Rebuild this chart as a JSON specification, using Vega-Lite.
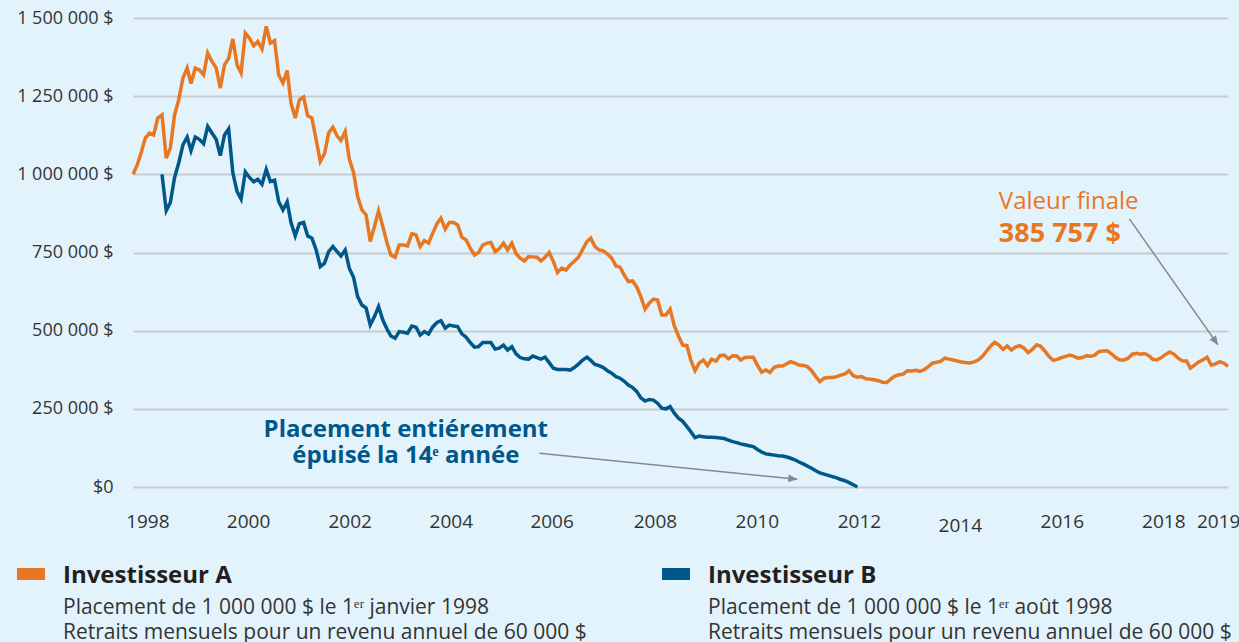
{
  "$schema": "https://vega.github.io/schema/vega-lite/v6.json",
  "background": "#e3f3fc",
  "padding": {"top": 9, "left": 0, "right": 0, "bottom": 0},
  "spacing": 0,
  "config": {"font": "Open Sans", "view": {"stroke": null}},
  "datasets": {
    "series": [
      {"date":"1998-01","investor":"Investisseur A","value":1000000},
      {"date":"1998-02","investor":"Investisseur A","value":1030000},
      {"date":"1998-03","investor":"Investisseur A","value":1068000},
      {"date":"1998-04","investor":"Investisseur A","value":1116000},
      {"date":"1998-05","investor":"Investisseur A","value":1132000},
      {"date":"1998-06","investor":"Investisseur A","value":1126000},
      {"date":"1998-07","investor":"Investisseur A","value":1180000},
      {"date":"1998-08","investor":"Investisseur A","value":1190000},
      {"date":"1998-09","investor":"Investisseur A","value":1052000},
      {"date":"1998-10","investor":"Investisseur A","value":1084000},
      {"date":"1998-11","investor":"Investisseur A","value":1190000},
      {"date":"1998-12","investor":"Investisseur A","value":1238000},
      {"date":"1999-01","investor":"Investisseur A","value":1308000},
      {"date":"1999-02","investor":"Investisseur A","value":1340000},
      {"date":"1999-03","investor":"Investisseur A","value":1290000},
      {"date":"1999-04","investor":"Investisseur A","value":1340000},
      {"date":"1999-05","investor":"Investisseur A","value":1334000},
      {"date":"1999-06","investor":"Investisseur A","value":1318000},
      {"date":"1999-07","investor":"Investisseur A","value":1388000},
      {"date":"1999-08","investor":"Investisseur A","value":1361000},
      {"date":"1999-09","investor":"Investisseur A","value":1340000},
      {"date":"1999-10","investor":"Investisseur A","value":1276000},
      {"date":"1999-11","investor":"Investisseur A","value":1350000},
      {"date":"1999-12","investor":"Investisseur A","value":1371000},
      {"date":"2000-01","investor":"Investisseur A","value":1433000},
      {"date":"2000-02","investor":"Investisseur A","value":1350000},
      {"date":"2000-03","investor":"Investisseur A","value":1324000},
      {"date":"2000-04","investor":"Investisseur A","value":1452000},
      {"date":"2000-05","investor":"Investisseur A","value":1436000},
      {"date":"2000-06","investor":"Investisseur A","value":1411000},
      {"date":"2000-07","investor":"Investisseur A","value":1425000},
      {"date":"2000-08","investor":"Investisseur A","value":1401000},
      {"date":"2000-09","investor":"Investisseur A","value":1473000},
      {"date":"2000-10","investor":"Investisseur A","value":1420000},
      {"date":"2000-11","investor":"Investisseur A","value":1428000},
      {"date":"2000-12","investor":"Investisseur A","value":1318000},
      {"date":"2001-01","investor":"Investisseur A","value":1292000},
      {"date":"2001-02","investor":"Investisseur A","value":1332000},
      {"date":"2001-03","investor":"Investisseur A","value":1228000},
      {"date":"2001-04","investor":"Investisseur A","value":1180000},
      {"date":"2001-05","investor":"Investisseur A","value":1238000},
      {"date":"2001-06","investor":"Investisseur A","value":1247000},
      {"date":"2001-07","investor":"Investisseur A","value":1187000},
      {"date":"2001-08","investor":"Investisseur A","value":1180000},
      {"date":"2001-09","investor":"Investisseur A","value":1110000},
      {"date":"2001-10","investor":"Investisseur A","value":1041000},
      {"date":"2001-11","investor":"Investisseur A","value":1066000},
      {"date":"2001-12","investor":"Investisseur A","value":1132000},
      {"date":"2002-01","investor":"Investisseur A","value":1151000},
      {"date":"2002-02","investor":"Investisseur A","value":1123000},
      {"date":"2002-03","investor":"Investisseur A","value":1108000},
      {"date":"2002-04","investor":"Investisseur A","value":1137000},
      {"date":"2002-05","investor":"Investisseur A","value":1049000},
      {"date":"2002-06","investor":"Investisseur A","value":1006000},
      {"date":"2002-07","investor":"Investisseur A","value":929000},
      {"date":"2002-08","investor":"Investisseur A","value":886000},
      {"date":"2002-09","investor":"Investisseur A","value":870000},
      {"date":"2002-10","investor":"Investisseur A","value":785000},
      {"date":"2002-11","investor":"Investisseur A","value":833000},
      {"date":"2002-12","investor":"Investisseur A","value":883000},
      {"date":"2003-01","investor":"Investisseur A","value":833000},
      {"date":"2003-02","investor":"Investisseur A","value":780000},
      {"date":"2003-03","investor":"Investisseur A","value":742000},
      {"date":"2003-04","investor":"Investisseur A","value":735000},
      {"date":"2003-05","investor":"Investisseur A","value":774000},
      {"date":"2003-06","investor":"Investisseur A","value":774000},
      {"date":"2003-07","investor":"Investisseur A","value":771000},
      {"date":"2003-08","investor":"Investisseur A","value":810000},
      {"date":"2003-09","investor":"Investisseur A","value":806000},
      {"date":"2003-10","investor":"Investisseur A","value":769000},
      {"date":"2003-11","investor":"Investisseur A","value":788000},
      {"date":"2003-12","investor":"Investisseur A","value":780000},
      {"date":"2004-01","investor":"Investisseur A","value":812000},
      {"date":"2004-02","investor":"Investisseur A","value":842000},
      {"date":"2004-03","investor":"Investisseur A","value":860000},
      {"date":"2004-04","investor":"Investisseur A","value":825000},
      {"date":"2004-05","investor":"Investisseur A","value":846000},
      {"date":"2004-06","investor":"Investisseur A","value":846000},
      {"date":"2004-07","investor":"Investisseur A","value":838000},
      {"date":"2004-08","investor":"Investisseur A","value":799000},
      {"date":"2004-09","investor":"Investisseur A","value":790000},
      {"date":"2004-10","investor":"Investisseur A","value":764000},
      {"date":"2004-11","investor":"Investisseur A","value":742000},
      {"date":"2004-12","investor":"Investisseur A","value":750000},
      {"date":"2005-01","investor":"Investisseur A","value":774000},
      {"date":"2005-02","investor":"Investisseur A","value":780000},
      {"date":"2005-03","investor":"Investisseur A","value":782000},
      {"date":"2005-04","investor":"Investisseur A","value":753000},
      {"date":"2005-05","investor":"Investisseur A","value":762000},
      {"date":"2005-06","investor":"Investisseur A","value":780000},
      {"date":"2005-07","investor":"Investisseur A","value":758000},
      {"date":"2005-08","investor":"Investisseur A","value":780000},
      {"date":"2005-09","investor":"Investisseur A","value":746000},
      {"date":"2005-10","investor":"Investisseur A","value":732000},
      {"date":"2005-11","investor":"Investisseur A","value":723000},
      {"date":"2005-12","investor":"Investisseur A","value":737000},
      {"date":"2006-01","investor":"Investisseur A","value":736000},
      {"date":"2006-02","investor":"Investisseur A","value":735000},
      {"date":"2006-03","investor":"Investisseur A","value":723000},
      {"date":"2006-04","investor":"Investisseur A","value":735000},
      {"date":"2006-05","investor":"Investisseur A","value":750000},
      {"date":"2006-06","investor":"Investisseur A","value":721000},
      {"date":"2006-07","investor":"Investisseur A","value":686000},
      {"date":"2006-08","investor":"Investisseur A","value":700000},
      {"date":"2006-09","investor":"Investisseur A","value":694000},
      {"date":"2006-10","investor":"Investisseur A","value":710000},
      {"date":"2006-11","investor":"Investisseur A","value":722000},
      {"date":"2006-12","investor":"Investisseur A","value":735000},
      {"date":"2007-01","investor":"Investisseur A","value":760000},
      {"date":"2007-02","investor":"Investisseur A","value":785000},
      {"date":"2007-03","investor":"Investisseur A","value":796000},
      {"date":"2007-04","investor":"Investisseur A","value":769000},
      {"date":"2007-05","investor":"Investisseur A","value":758000},
      {"date":"2007-06","investor":"Investisseur A","value":755000},
      {"date":"2007-07","investor":"Investisseur A","value":745000},
      {"date":"2007-08","investor":"Investisseur A","value":732000},
      {"date":"2007-09","investor":"Investisseur A","value":707000},
      {"date":"2007-10","investor":"Investisseur A","value":703000},
      {"date":"2007-11","investor":"Investisseur A","value":678000},
      {"date":"2007-12","investor":"Investisseur A","value":657000},
      {"date":"2008-01","investor":"Investisseur A","value":659000},
      {"date":"2008-02","investor":"Investisseur A","value":639000},
      {"date":"2008-03","investor":"Investisseur A","value":609000},
      {"date":"2008-04","investor":"Investisseur A","value":569000},
      {"date":"2008-05","investor":"Investisseur A","value":588000},
      {"date":"2008-06","investor":"Investisseur A","value":601000},
      {"date":"2008-07","investor":"Investisseur A","value":598000},
      {"date":"2008-08","investor":"Investisseur A","value":550000},
      {"date":"2008-09","investor":"Investisseur A","value":550000},
      {"date":"2008-10","investor":"Investisseur A","value":569000},
      {"date":"2008-11","investor":"Investisseur A","value":515000},
      {"date":"2008-12","investor":"Investisseur A","value":483000},
      {"date":"2009-01","investor":"Investisseur A","value":454000},
      {"date":"2009-02","investor":"Investisseur A","value":452000},
      {"date":"2009-03","investor":"Investisseur A","value":406000},
      {"date":"2009-04","investor":"Investisseur A","value":372000},
      {"date":"2009-05","investor":"Investisseur A","value":396000},
      {"date":"2009-06","investor":"Investisseur A","value":406000},
      {"date":"2009-07","investor":"Investisseur A","value":388000},
      {"date":"2009-08","investor":"Investisseur A","value":409000},
      {"date":"2009-09","investor":"Investisseur A","value":403000},
      {"date":"2009-10","investor":"Investisseur A","value":420000},
      {"date":"2009-11","investor":"Investisseur A","value":422000},
      {"date":"2009-12","investor":"Investisseur A","value":410000},
      {"date":"2010-01","investor":"Investisseur A","value":420000},
      {"date":"2010-02","investor":"Investisseur A","value":419000},
      {"date":"2010-03","investor":"Investisseur A","value":406000},
      {"date":"2010-04","investor":"Investisseur A","value":414000},
      {"date":"2010-05","investor":"Investisseur A","value":415000},
      {"date":"2010-06","investor":"Investisseur A","value":415000},
      {"date":"2010-07","investor":"Investisseur A","value":390000},
      {"date":"2010-08","investor":"Investisseur A","value":367000},
      {"date":"2010-09","investor":"Investisseur A","value":374000},
      {"date":"2010-10","investor":"Investisseur A","value":366000},
      {"date":"2010-11","investor":"Investisseur A","value":383000},
      {"date":"2010-12","investor":"Investisseur A","value":387000},
      {"date":"2011-01","investor":"Investisseur A","value":387000},
      {"date":"2011-02","investor":"Investisseur A","value":394000},
      {"date":"2011-03","investor":"Investisseur A","value":401000},
      {"date":"2011-04","investor":"Investisseur A","value":396000},
      {"date":"2011-05","investor":"Investisseur A","value":390000},
      {"date":"2011-06","investor":"Investisseur A","value":389000},
      {"date":"2011-07","investor":"Investisseur A","value":385000},
      {"date":"2011-08","investor":"Investisseur A","value":372000},
      {"date":"2011-09","investor":"Investisseur A","value":353000},
      {"date":"2011-10","investor":"Investisseur A","value":337000},
      {"date":"2011-11","investor":"Investisseur A","value":348000},
      {"date":"2011-12","investor":"Investisseur A","value":350000},
      {"date":"2012-01","investor":"Investisseur A","value":350000},
      {"date":"2012-02","investor":"Investisseur A","value":353000},
      {"date":"2012-03","investor":"Investisseur A","value":358000},
      {"date":"2012-04","investor":"Investisseur A","value":362000},
      {"date":"2012-05","investor":"Investisseur A","value":372000},
      {"date":"2012-06","investor":"Investisseur A","value":356000},
      {"date":"2012-07","investor":"Investisseur A","value":351000},
      {"date":"2012-08","investor":"Investisseur A","value":353000},
      {"date":"2012-09","investor":"Investisseur A","value":346000},
      {"date":"2012-10","investor":"Investisseur A","value":345000},
      {"date":"2012-11","investor":"Investisseur A","value":343000},
      {"date":"2012-12","investor":"Investisseur A","value":340000},
      {"date":"2013-01","investor":"Investisseur A","value":335000},
      {"date":"2013-02","investor":"Investisseur A","value":334000},
      {"date":"2013-03","investor":"Investisseur A","value":345000},
      {"date":"2013-04","investor":"Investisseur A","value":355000},
      {"date":"2013-05","investor":"Investisseur A","value":359000},
      {"date":"2013-06","investor":"Investisseur A","value":361000},
      {"date":"2013-07","investor":"Investisseur A","value":372000},
      {"date":"2013-08","investor":"Investisseur A","value":371000},
      {"date":"2013-09","investor":"Investisseur A","value":373000},
      {"date":"2013-10","investor":"Investisseur A","value":370000},
      {"date":"2013-11","investor":"Investisseur A","value":375000},
      {"date":"2013-12","investor":"Investisseur A","value":385000},
      {"date":"2014-01","investor":"Investisseur A","value":396000},
      {"date":"2014-02","investor":"Investisseur A","value":399000},
      {"date":"2014-03","investor":"Investisseur A","value":402000},
      {"date":"2014-04","investor":"Investisseur A","value":412000},
      {"date":"2014-05","investor":"Investisseur A","value":409000},
      {"date":"2014-06","investor":"Investisseur A","value":406000},
      {"date":"2014-07","investor":"Investisseur A","value":403000},
      {"date":"2014-08","investor":"Investisseur A","value":400000},
      {"date":"2014-09","investor":"Investisseur A","value":398000},
      {"date":"2014-10","investor":"Investisseur A","value":397000},
      {"date":"2014-11","investor":"Investisseur A","value":400000},
      {"date":"2014-12","investor":"Investisseur A","value":406000},
      {"date":"2015-01","investor":"Investisseur A","value":418000},
      {"date":"2015-02","investor":"Investisseur A","value":435000},
      {"date":"2015-03","investor":"Investisseur A","value":450000},
      {"date":"2015-04","investor":"Investisseur A","value":463000},
      {"date":"2015-05","investor":"Investisseur A","value":454000},
      {"date":"2015-06","investor":"Investisseur A","value":440000},
      {"date":"2015-07","investor":"Investisseur A","value":451000},
      {"date":"2015-08","investor":"Investisseur A","value":438000},
      {"date":"2015-09","investor":"Investisseur A","value":448000},
      {"date":"2015-10","investor":"Investisseur A","value":452000},
      {"date":"2015-11","investor":"Investisseur A","value":444000},
      {"date":"2015-12","investor":"Investisseur A","value":430000},
      {"date":"2016-01","investor":"Investisseur A","value":440000},
      {"date":"2016-02","investor":"Investisseur A","value":455000},
      {"date":"2016-03","investor":"Investisseur A","value":450000},
      {"date":"2016-04","investor":"Investisseur A","value":435000},
      {"date":"2016-05","investor":"Investisseur A","value":418000},
      {"date":"2016-06","investor":"Investisseur A","value":405000},
      {"date":"2016-07","investor":"Investisseur A","value":408000},
      {"date":"2016-08","investor":"Investisseur A","value":414000},
      {"date":"2016-09","investor":"Investisseur A","value":418000},
      {"date":"2016-10","investor":"Investisseur A","value":422000},
      {"date":"2016-11","investor":"Investisseur A","value":418000},
      {"date":"2016-12","investor":"Investisseur A","value":412000},
      {"date":"2017-01","investor":"Investisseur A","value":414000},
      {"date":"2017-02","investor":"Investisseur A","value":420000},
      {"date":"2017-03","investor":"Investisseur A","value":418000},
      {"date":"2017-04","investor":"Investisseur A","value":422000},
      {"date":"2017-05","investor":"Investisseur A","value":433000},
      {"date":"2017-06","investor":"Investisseur A","value":435000},
      {"date":"2017-07","investor":"Investisseur A","value":436000},
      {"date":"2017-08","investor":"Investisseur A","value":426000},
      {"date":"2017-09","investor":"Investisseur A","value":414000},
      {"date":"2017-10","investor":"Investisseur A","value":406000},
      {"date":"2017-11","investor":"Investisseur A","value":406000},
      {"date":"2017-12","investor":"Investisseur A","value":412000},
      {"date":"2018-01","investor":"Investisseur A","value":425000},
      {"date":"2018-02","investor":"Investisseur A","value":428000},
      {"date":"2018-03","investor":"Investisseur A","value":425000},
      {"date":"2018-04","investor":"Investisseur A","value":427000},
      {"date":"2018-05","investor":"Investisseur A","value":420000},
      {"date":"2018-06","investor":"Investisseur A","value":408000},
      {"date":"2018-07","investor":"Investisseur A","value":407000},
      {"date":"2018-08","investor":"Investisseur A","value":414000},
      {"date":"2018-09","investor":"Investisseur A","value":424000},
      {"date":"2018-10","investor":"Investisseur A","value":432000},
      {"date":"2018-11","investor":"Investisseur A","value":425000},
      {"date":"2018-12","investor":"Investisseur A","value":412000},
      {"date":"2019-01","investor":"Investisseur A","value":404000},
      {"date":"2019-02","investor":"Investisseur A","value":403000},
      {"date":"2019-03","investor":"Investisseur A","value":380000},
      {"date":"2019-04","investor":"Investisseur A","value":390000},
      {"date":"2019-05","investor":"Investisseur A","value":400000},
      {"date":"2019-06","investor":"Investisseur A","value":407000},
      {"date":"2019-07","investor":"Investisseur A","value":415000},
      {"date":"2019-08","investor":"Investisseur A","value":390000},
      {"date":"2019-09","investor":"Investisseur A","value":394000},
      {"date":"2019-10","investor":"Investisseur A","value":401000},
      {"date":"2019-11","investor":"Investisseur A","value":396000},
      {"date":"2019-12","investor":"Investisseur A","value":385757},
      {"date":"1998-08","investor":"Investisseur B","value":1000000},
      {"date":"1998-09","investor":"Investisseur B","value":884000},
      {"date":"1998-10","investor":"Investisseur B","value":910000},
      {"date":"1998-11","investor":"Investisseur B","value":990000},
      {"date":"1998-12","investor":"Investisseur B","value":1036000},
      {"date":"1999-01","investor":"Investisseur B","value":1094000},
      {"date":"1999-02","investor":"Investisseur B","value":1119000},
      {"date":"1999-03","investor":"Investisseur B","value":1076000},
      {"date":"1999-04","investor":"Investisseur B","value":1119000},
      {"date":"1999-05","investor":"Investisseur B","value":1112000},
      {"date":"1999-06","investor":"Investisseur B","value":1098000},
      {"date":"1999-07","investor":"Investisseur B","value":1153000},
      {"date":"1999-08","investor":"Investisseur B","value":1132000},
      {"date":"1999-09","investor":"Investisseur B","value":1112000},
      {"date":"1999-10","investor":"Investisseur B","value":1060000},
      {"date":"1999-11","investor":"Investisseur B","value":1126000},
      {"date":"1999-12","investor":"Investisseur B","value":1145000},
      {"date":"2000-01","investor":"Investisseur B","value":1004000},
      {"date":"2000-02","investor":"Investisseur B","value":945000},
      {"date":"2000-03","investor":"Investisseur B","value":921000},
      {"date":"2000-04","investor":"Investisseur B","value":1008000},
      {"date":"2000-05","investor":"Investisseur B","value":990000},
      {"date":"2000-06","investor":"Investisseur B","value":976000},
      {"date":"2000-07","investor":"Investisseur B","value":984000},
      {"date":"2000-08","investor":"Investisseur B","value":968000},
      {"date":"2000-09","investor":"Investisseur B","value":1016000},
      {"date":"2000-10","investor":"Investisseur B","value":977000},
      {"date":"2000-11","investor":"Investisseur B","value":981000},
      {"date":"2000-12","investor":"Investisseur B","value":913000},
      {"date":"2001-01","investor":"Investisseur B","value":886000},
      {"date":"2001-02","investor":"Investisseur B","value":912000},
      {"date":"2001-03","investor":"Investisseur B","value":846000},
      {"date":"2001-04","investor":"Investisseur B","value":803000},
      {"date":"2001-05","investor":"Investisseur B","value":842000},
      {"date":"2001-06","investor":"Investisseur B","value":846000},
      {"date":"2001-07","investor":"Investisseur B","value":803000},
      {"date":"2001-08","investor":"Investisseur B","value":796000},
      {"date":"2001-09","investor":"Investisseur B","value":758000},
      {"date":"2001-10","investor":"Investisseur B","value":705000},
      {"date":"2001-11","investor":"Investisseur B","value":716000},
      {"date":"2001-12","investor":"Investisseur B","value":753000},
      {"date":"2002-01","investor":"Investisseur B","value":769000},
      {"date":"2002-02","investor":"Investisseur B","value":753000},
      {"date":"2002-03","investor":"Investisseur B","value":739000},
      {"date":"2002-04","investor":"Investisseur B","value":758000},
      {"date":"2002-05","investor":"Investisseur B","value":700000},
      {"date":"2002-06","investor":"Investisseur B","value":671000},
      {"date":"2002-07","investor":"Investisseur B","value":609000},
      {"date":"2002-08","investor":"Investisseur B","value":582000},
      {"date":"2002-09","investor":"Investisseur B","value":572000},
      {"date":"2002-10","investor":"Investisseur B","value":518000},
      {"date":"2002-11","investor":"Investisseur B","value":545000},
      {"date":"2002-12","investor":"Investisseur B","value":577000},
      {"date":"2003-01","investor":"Investisseur B","value":534000},
      {"date":"2003-02","investor":"Investisseur B","value":505000},
      {"date":"2003-03","investor":"Investisseur B","value":483000},
      {"date":"2003-04","investor":"Investisseur B","value":476000},
      {"date":"2003-05","investor":"Investisseur B","value":497000},
      {"date":"2003-06","investor":"Investisseur B","value":495000},
      {"date":"2003-07","investor":"Investisseur B","value":492000},
      {"date":"2003-08","investor":"Investisseur B","value":515000},
      {"date":"2003-09","investor":"Investisseur B","value":511000},
      {"date":"2003-10","investor":"Investisseur B","value":486000},
      {"date":"2003-11","investor":"Investisseur B","value":497000},
      {"date":"2003-12","investor":"Investisseur B","value":489000},
      {"date":"2004-01","investor":"Investisseur B","value":512000},
      {"date":"2004-02","investor":"Investisseur B","value":526000},
      {"date":"2004-03","investor":"Investisseur B","value":532000},
      {"date":"2004-04","investor":"Investisseur B","value":508000},
      {"date":"2004-05","investor":"Investisseur B","value":518000},
      {"date":"2004-06","investor":"Investisseur B","value":515000},
      {"date":"2004-07","investor":"Investisseur B","value":513000},
      {"date":"2004-08","investor":"Investisseur B","value":490000},
      {"date":"2004-09","investor":"Investisseur B","value":479000},
      {"date":"2004-10","investor":"Investisseur B","value":462000},
      {"date":"2004-11","investor":"Investisseur B","value":447000},
      {"date":"2004-12","investor":"Investisseur B","value":449000},
      {"date":"2005-01","investor":"Investisseur B","value":462000},
      {"date":"2005-02","investor":"Investisseur B","value":462000},
      {"date":"2005-03","investor":"Investisseur B","value":462000},
      {"date":"2005-04","investor":"Investisseur B","value":441000},
      {"date":"2005-05","investor":"Investisseur B","value":444000},
      {"date":"2005-06","investor":"Investisseur B","value":454000},
      {"date":"2005-07","investor":"Investisseur B","value":438000},
      {"date":"2005-08","investor":"Investisseur B","value":449000},
      {"date":"2005-09","investor":"Investisseur B","value":426000},
      {"date":"2005-10","investor":"Investisseur B","value":414000},
      {"date":"2005-11","investor":"Investisseur B","value":410000},
      {"date":"2005-12","investor":"Investisseur B","value":409000},
      {"date":"2006-01","investor":"Investisseur B","value":419000},
      {"date":"2006-02","investor":"Investisseur B","value":414000},
      {"date":"2006-03","investor":"Investisseur B","value":409000},
      {"date":"2006-04","investor":"Investisseur B","value":415000},
      {"date":"2006-05","investor":"Investisseur B","value":398000},
      {"date":"2006-06","investor":"Investisseur B","value":380000},
      {"date":"2006-07","investor":"Investisseur B","value":376000},
      {"date":"2006-08","investor":"Investisseur B","value":376000},
      {"date":"2006-09","investor":"Investisseur B","value":376000},
      {"date":"2006-10","investor":"Investisseur B","value":374000},
      {"date":"2006-11","investor":"Investisseur B","value":382000},
      {"date":"2006-12","investor":"Investisseur B","value":393000},
      {"date":"2007-01","investor":"Investisseur B","value":406000},
      {"date":"2007-02","investor":"Investisseur B","value":415000},
      {"date":"2007-03","investor":"Investisseur B","value":405000},
      {"date":"2007-04","investor":"Investisseur B","value":392000},
      {"date":"2007-05","investor":"Investisseur B","value":388000},
      {"date":"2007-06","investor":"Investisseur B","value":382000},
      {"date":"2007-07","investor":"Investisseur B","value":372000},
      {"date":"2007-08","investor":"Investisseur B","value":364000},
      {"date":"2007-09","investor":"Investisseur B","value":353000},
      {"date":"2007-10","investor":"Investisseur B","value":348000},
      {"date":"2007-11","investor":"Investisseur B","value":338000},
      {"date":"2007-12","investor":"Investisseur B","value":326000},
      {"date":"2008-01","investor":"Investisseur B","value":318000},
      {"date":"2008-02","investor":"Investisseur B","value":305000},
      {"date":"2008-03","investor":"Investisseur B","value":285000},
      {"date":"2008-04","investor":"Investisseur B","value":275000},
      {"date":"2008-05","investor":"Investisseur B","value":280000},
      {"date":"2008-06","investor":"Investisseur B","value":278000},
      {"date":"2008-07","investor":"Investisseur B","value":268000},
      {"date":"2008-08","investor":"Investisseur B","value":252000},
      {"date":"2008-09","investor":"Investisseur B","value":250000},
      {"date":"2008-10","investor":"Investisseur B","value":257000},
      {"date":"2008-11","investor":"Investisseur B","value":236000},
      {"date":"2008-12","investor":"Investisseur B","value":220000},
      {"date":"2009-01","investor":"Investisseur B","value":210000},
      {"date":"2009-02","investor":"Investisseur B","value":193000},
      {"date":"2009-03","investor":"Investisseur B","value":177000},
      {"date":"2009-04","investor":"Investisseur B","value":158000},
      {"date":"2009-05","investor":"Investisseur B","value":163000},
      {"date":"2009-06","investor":"Investisseur B","value":161000},
      {"date":"2009-07","investor":"Investisseur B","value":159000},
      {"date":"2009-08","investor":"Investisseur B","value":159000},
      {"date":"2009-09","investor":"Investisseur B","value":158000},
      {"date":"2009-10","investor":"Investisseur B","value":157000},
      {"date":"2009-11","investor":"Investisseur B","value":155000},
      {"date":"2009-12","investor":"Investisseur B","value":150000},
      {"date":"2010-01","investor":"Investisseur B","value":145000},
      {"date":"2010-02","investor":"Investisseur B","value":142000},
      {"date":"2010-03","investor":"Investisseur B","value":138000},
      {"date":"2010-04","investor":"Investisseur B","value":135000},
      {"date":"2010-05","investor":"Investisseur B","value":132000},
      {"date":"2010-06","investor":"Investisseur B","value":129000},
      {"date":"2010-07","investor":"Investisseur B","value":120000},
      {"date":"2010-08","investor":"Investisseur B","value":112000},
      {"date":"2010-09","investor":"Investisseur B","value":106000},
      {"date":"2010-10","investor":"Investisseur B","value":104000},
      {"date":"2010-11","investor":"Investisseur B","value":102000},
      {"date":"2010-12","investor":"Investisseur B","value":100000},
      {"date":"2011-01","investor":"Investisseur B","value":99000},
      {"date":"2011-02","investor":"Investisseur B","value":96000},
      {"date":"2011-03","investor":"Investisseur B","value":92000},
      {"date":"2011-04","investor":"Investisseur B","value":87000},
      {"date":"2011-05","investor":"Investisseur B","value":80000},
      {"date":"2011-06","investor":"Investisseur B","value":74000},
      {"date":"2011-07","investor":"Investisseur B","value":67000},
      {"date":"2011-08","investor":"Investisseur B","value":60000},
      {"date":"2011-09","investor":"Investisseur B","value":52000},
      {"date":"2011-10","investor":"Investisseur B","value":45000},
      {"date":"2011-11","investor":"Investisseur B","value":41000},
      {"date":"2011-12","investor":"Investisseur B","value":37000},
      {"date":"2012-01","investor":"Investisseur B","value":33000},
      {"date":"2012-02","investor":"Investisseur B","value":29000},
      {"date":"2012-03","investor":"Investisseur B","value":24000},
      {"date":"2012-04","investor":"Investisseur B","value":20000},
      {"date":"2012-05","investor":"Investisseur B","value":14000},
      {"date":"2012-06","investor":"Investisseur B","value":7000},
      {"date":"2012-07","investor":"Investisseur B","value":0}
    ],
    "legend": [
      {"investor":"Investisseur A","description":"Placement de 1 000 000 $ le 1ᵉʳ janvier 1998\nRetraits mensuels pour un revenu annuel de 60 000 $"},
      {"investor":"Investisseur B","description":"Placement de 1 000 000 $ le 1ᵉʳ août 1998\nRetraits mensuels pour un revenu annuel de 60 000 $"}
    ]
  },
  "vconcat": [
    {
      "width": 1095,
      "height": 469,
      "layer": [
        {
          "data": {"name": "series"},
          "mark": {"type": "line", "strokeWidth": 3.5},
          "encoding": {
            "x": {
              "field": "date", "type": "temporal", "title": null,
              "scale": {"type": "utc", "domain": [{"year":1998,"month":1,"date":1,"utc":true},{"year":2019,"month":12,"date":1,"utc":true}]},
              "axis": {
                "values": [
                  {"year":1998,"month":4,"date":16,"utc":true},
                  {"year":2000,"month":4,"date":21,"utc":true},
                  {"year":2002,"month":5,"date":4,"utc":true},
                  {"year":2004,"month":5,"date":12,"utc":true},
                  {"year":2006,"month":5,"date":19,"utc":true},
                  {"year":2008,"month":6,"date":12,"utc":true},
                  {"year":2010,"month":6,"date":27,"utc":true},
                  {"year":2012,"month":7,"date":12,"utc":true},
                  {"year":2014,"month":7,"date":20,"utc":true},
                  {"year":2016,"month":8,"date":3,"utc":true},
                  {"year":2018,"month":8,"date":15,"utc":true},
                  {"year":2019,"month":9,"date":20,"utc":true}
                ],
                "labelExpr": "utcFormat(datum.value, '%Y')",
                "grid": false, "domain": false, "ticks": false,
                "labelFontSize": 19, "labelColor": "#333333",
                "labelBaseline": "alphabetic",
                "labelPadding": {"condition": {"test": "utcyear(datum.value) === 2014", "value": 44}, "value": 40},
                "labelFlush": false, "labelOverlap": false,
                "minExtent": 45, "maxExtent": 45
              }
            },
            "y": {
              "field": "value", "type": "quantitative", "title": null,
              "scale": {"domain": [0, 1500000], "nice": false},
              "axis": {
                "values": [0, 250000, 500000, 750000, 1000000, 1250000, 1500000],
                "labelExpr": "datum.value === 0 ? '$0' : replace(replace(format(datum.value, ','), ',', ' '), ',', ' ') + ' $'",
                "domain": false, "ticks": false,
                "gridColor": "#c6ccd0", "gridWidth": 2,
                "labelFontSize": 18, "labelColor": "#333333", "labelPadding": 20,
                "minExtent": 133, "maxExtent": 133
              }
            },
            "color": {
              "field": "investor", "type": "nominal",
              "scale": {"domain": ["Investisseur A", "Investisseur B"], "range": ["#e87722", "#00578a"]},
              "legend": null
            }
          }
        },
        {
          "data": {"values": [
            {"date": "2017-12-10", "value": 857600, "date2": "2019-09-19", "value2": 454400},
            {"date": "2006-02-19", "value": 107800, "date2": "2011-04-19", "value2": 24600}
          ]},
          "mark": {"type": "rule", "color": "#85888c", "strokeWidth": 1.5},
          "encoding": {
            "x": {"field": "date", "type": "temporal", "title": null},
            "y": {"field": "value", "type": "quantitative", "title": null},
            "x2": {"field": "date2"},
            "y2": {"field": "value2"}
          }
        },
        {
          "data": {"values": [
            {"date2": "2019-09-19", "value2": 454400, "heading": 144.8},
            {"date2": "2011-04-19", "value2": 24600, "heading": 95.7}
          ]},
          "mark": {"type": "point", "shape": "M0,0L-0.7,1.6L0.7,1.6Z", "filled": true, "opacity": 1, "size": 127, "color": "#85888c"},
          "encoding": {
            "x": {"field": "date2", "type": "temporal", "title": null},
            "y": {"field": "value2", "type": "quantitative", "title": null},
            "angle": {"field": "heading", "type": "quantitative", "scale": null}
          }
        },
        {
          "data": {"values": [{"date": "2015-05-01", "value": 890000, "label": "Valeur finale"}]},
          "mark": {"type": "text", "align": "left", "baseline": "alphabetic", "fontSize": 24, "color": "#e87722"},
          "encoding": {
            "x": {"field": "date", "type": "temporal", "title": null},
            "y": {"field": "value", "type": "quantitative", "title": null},
            "text": {"field": "label"}
          }
        },
        {
          "data": {"values": [{"date": "2015-05-01", "value": 784000, "label": "385 757 $"}]},
          "mark": {"type": "text", "align": "left", "baseline": "alphabetic", "fontSize": 27, "fontWeight": "bold", "color": "#e87722"},
          "encoding": {
            "x": {"field": "date", "type": "temporal", "title": null},
            "y": {"field": "value", "type": "quantitative", "title": null},
            "text": {"field": "label"}
          }
        },
        {
          "data": {"values": [{"date": "2003-06-18", "value": 160000, "label": "Placement entiérement\népuisé la 14ᵉ année"}]},
          "mark": {"type": "text", "align": "center", "baseline": "alphabetic", "fontSize": 24, "fontWeight": "bold", "color": "#00578a", "lineBreak": "\n", "lineHeight": 26},
          "encoding": {
            "x": {"field": "date", "type": "temporal", "title": null},
            "y": {"field": "value", "type": "quantitative", "title": null},
            "text": {"field": "label"}
          }
        }
      ]
    },
    {
      "width": 1095,
      "height": 110,
      "data": {"name": "legend"},
      "layer": [
        {
          "mark": {"type": "point", "shape": "M-1,-0.43H1V0.43H-1Z", "filled": true, "opacity": 1, "size": 784, "yOffset": -16},
          "encoding": {
            "x": {"field": "investor", "type": "nominal", "scale": {"type": "point", "range": [-102, 543], "padding": 0}, "axis": null},
            "color": {"field": "investor", "type": "nominal", "scale": {"domain": ["Investisseur A", "Investisseur B"], "range": ["#e87722", "#00578a"]}, "legend": null}
          }
        },
        {
          "mark": {"type": "text", "align": "left", "baseline": "alphabetic", "dx": 32, "dy": -7, "fontSize": 24, "fontWeight": "bold", "color": "#231f20"},
          "encoding": {
            "x": {"field": "investor", "type": "nominal", "axis": null},
            "text": {"field": "investor"}
          }
        },
        {
          "mark": {"type": "text", "align": "left", "baseline": "alphabetic", "dx": 32, "dy": 24, "fontSize": 21, "lineBreak": "\n", "lineHeight": 25, "color": "#333333"},
          "encoding": {
            "x": {"field": "investor", "type": "nominal", "axis": null},
            "text": {"field": "description"}
          }
        }
      ]
    }
  ]
}
